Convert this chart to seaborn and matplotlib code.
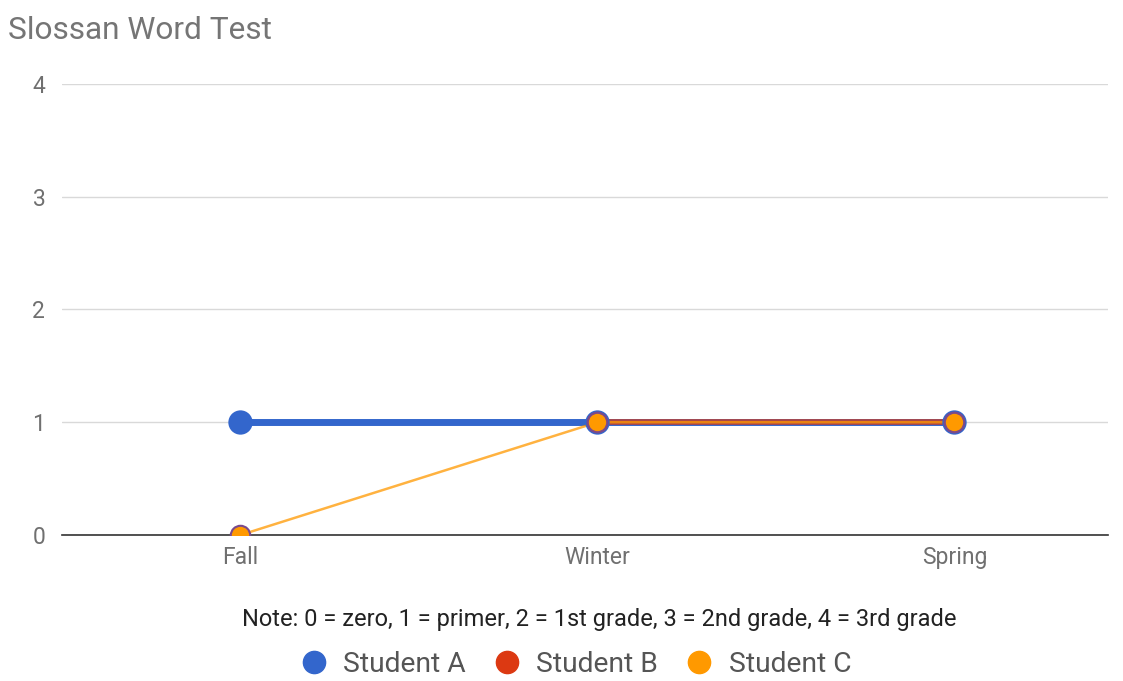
import pandas as pd
import matplotlib.pyplot as plt
import seaborn as sns
from matplotlib.lines import Line2D

# data
seasons = ['Fall', 'Winter', 'Spring']
student_a = [1, 1, 1]
student_b = [None, 1, 1]
student_c = [0, 1, 1]
students = ['Student A', 'Student B', 'Student C']
colors = {'Student A': '#3366cc', 'Student B': '#dc3912', 'Student C': '#ff9900'}

rows = []
for name, vals in zip(students, [student_a, student_b, student_c]):
    for s, v in zip(seasons, vals):
        if v is not None:
            rows.append({'season': s, 'level': v, 'student': name})
df = pd.DataFrame(rows)
df['x'] = df['season'].map({s: i for i, s in enumerate(seasons)})

sns.set_style('white')
plt.rcParams['font.family'] = ['Roboto', 'DejaVu Sans']

fig = plt.figure(figsize=(11.23, 6.81), dpi=100)
ax = fig.add_axes([0.0552, 0.2144, 0.9314, 0.6623])

styles = {
    'Student A': dict(linewidth=5, markersize=16, alpha=1.0, mec='#3366cc'),
    'Student B': dict(linewidth=4.2, markersize=14, alpha=0.7, mec='#7a4a8c'),
    'Student C': dict(linewidth=1.8, markersize=14, alpha=0.75, mec='#7a4a8c'),
}
for name in students:
    sub = df[df['student'] == name]
    st = styles[name]
    sns.lineplot(data=sub, x='x', y='level', color=colors[name], linewidth=st['linewidth'],
                 alpha=st['alpha'], ax=ax, legend=False, zorder=3)
    ax.plot(sub['x'], sub['level'], linestyle='none', marker='o', markersize=st['markersize'],
            markerfacecolor=colors[name], markeredgecolor=st['mec'], markeredgewidth=1.5, zorder=4)

ax.set_xlim(-0.5, 2.43)
ax.set_ylim(0, 4)
ax.set_yticks([0, 1, 2, 3, 4])
ax.set_xticks(range(len(seasons)))
ax.set_xticklabels(seasons)
ax.set_xlabel('')
ax.set_ylabel('')
ax.grid(axis='y', color='#d9d9d9', linewidth=1)
ax.grid(axis='x', visible=False)
for sp in ['top', 'right', 'left']:
    ax.spines[sp].set_visible(False)
ax.spines['bottom'].set_color('#333333')
ax.spines['bottom'].set_linewidth(1.2)
ax.tick_params(axis='both', length=0, labelsize=16.5, labelcolor='#707070')
ax.tick_params(axis='y', pad=12)
ax.tick_params(axis='x', pad=8)

fig.text(0.007, 0.955, 'Slossan Word Test', fontsize=22.8, color='#757575', ha='left', va='center')
fig.text(0.534, 0.09, 'Note: 0 = zero, 1 = primer, 2 = 1st grade, 3 = 2nd grade, 4 = 3rd grade',
         fontsize=17, color='#222222', ha='center', va='center')

handles = [Line2D([], [], linestyle='none', marker='o', markersize=16,
                  markerfacecolor=colors[n], markeredgecolor=colors[n]) for n in students]
fig.legend(handles, students, loc='center', bbox_to_anchor=(0.51, 0.024), ncol=3, frameon=False,
           fontsize=20.3, labelcolor='#555555', handlelength=1.4, handletextpad=0.35,
           columnspacing=0.75)

fig.savefig('out.png', dpi=100)
